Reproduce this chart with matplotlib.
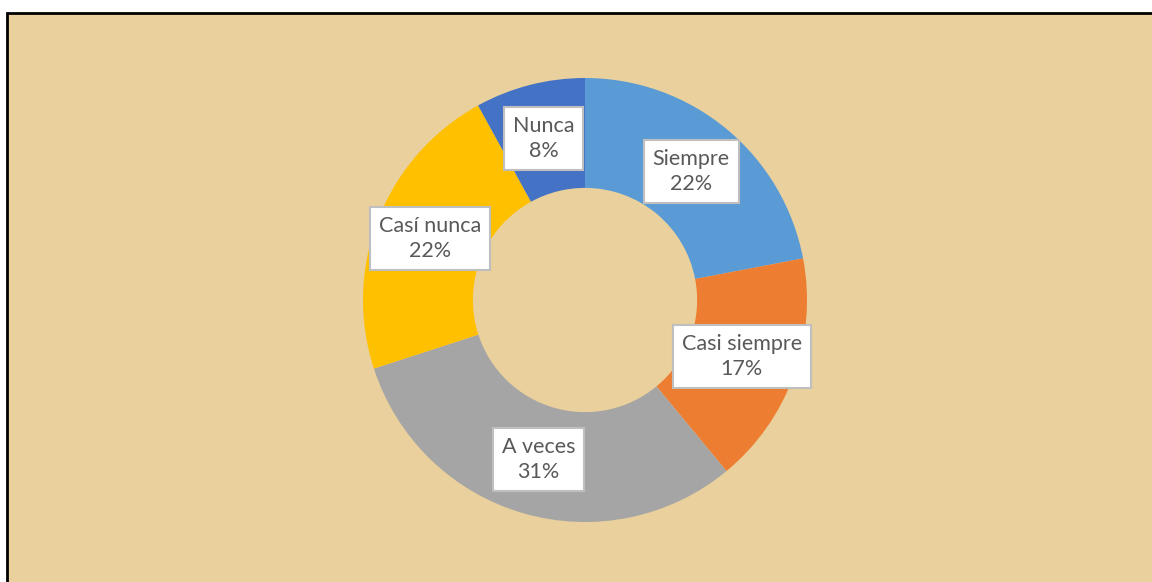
import matplotlib.pyplot as plt
import matplotlib.patches as mpatches
import numpy as np

labels = ['Siempre', 'Casi siempre', 'A veces', 'Casí nunca', 'Nunca']
values = [22, 17, 31, 22, 8]
colors = ['#5B9BD5', '#ED7D31', '#A5A5A5', '#FFC000', '#4472C4']

W, H = 1152, 582
fig = plt.figure(figsize=(W / 100, H / 100), dpi=100)
fig.patch.set_facecolor('white')

# papyrus-ish panel with a black frame, in its own background axes
bg = fig.add_axes([0, 0, 1, 1], zorder=-1)
bg.set_xlim(0, W)
bg.set_ylim(H, 0)
bg.axis('off')
bg.add_patch(mpatches.Rectangle((7, 13), W + 20, H + 20, facecolor='#E9D09C',
                                edgecolor='black', linewidth=2))

cx, cy, r = 585, 282, 222
ax = fig.add_axes([(cx - r) / W, (cy - r) / H, 2 * r / W, 2 * r / H])
ax.set_facecolor('none')
wedges, _ = ax.pie(values, colors=colors, startangle=90, counterclock=False,
                   radius=1, wedgeprops=dict(width=0.495, linewidth=0))
ax.set_xlim(-1, 1)
ax.set_ylim(-1, 1)
ax.set_aspect('equal')
ax.axis('off')

total = sum(values)
for w, lab, v in zip(wedges, labels, values):
    ang = np.deg2rad((w.theta1 + w.theta2) / 2)
    x, y = 0.75 * np.cos(ang), 0.75 * np.sin(ang)
    ax.text(x, y, '{}\n{}%'.format(lab, round(100 * v / total)),
            ha='center', va='center', fontsize=15.5, color='#595959',
            family='Lato', linespacing=1.3,
            bbox=dict(boxstyle='square,pad=0.42', facecolor='white',
                      edgecolor='#BFBFBF', linewidth=1.5))

fig.savefig('out.png', dpi=100)
